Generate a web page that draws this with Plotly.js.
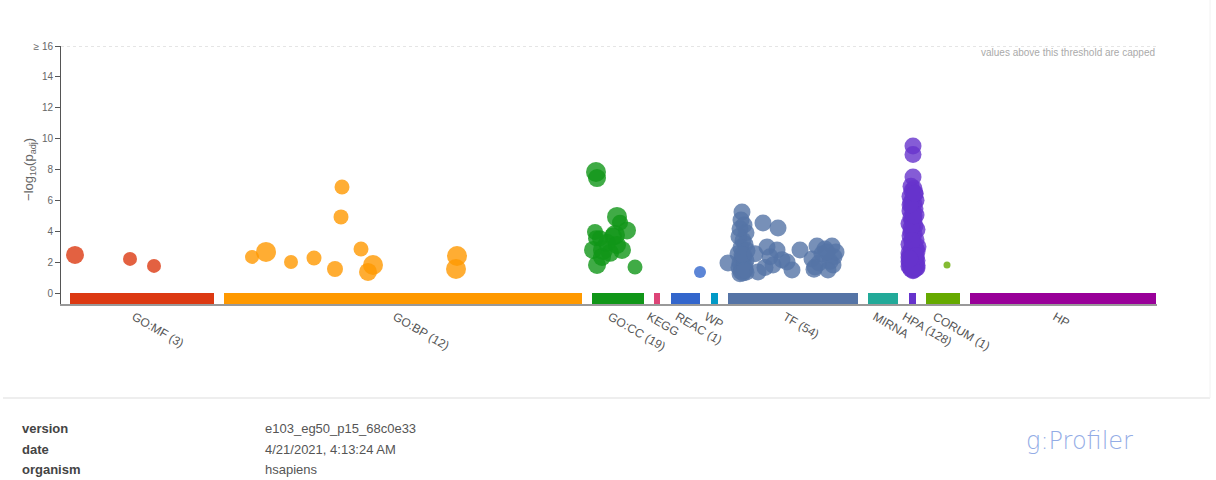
<!DOCTYPE html>
<html>
<head>
<meta charset="utf-8">
<script src="https://cdn.plot.ly/plotly-3.0.1.min.js"></script>
<style>html,body{margin:0;padding:0;background:#fff;}#chart{width:1216px;height:480px;}</style>
</head>
<body>
<div id="chart"></div>
<script>
// ---- categories (sources) ----
const catNames  = ['GO:MF (3)','GO:BP (12)','GO:CC (19)','KEGG','REAC (1)','WP','TF (54)','MIRNA','HPA (128)','CORUM (1)','HP'];
const catStart  = [70, 224, 592, 654, 671, 711, 728, 868, 909, 926, 970];
const catEnd    = [214, 582, 644, 660, 700, 718, 858, 898, 916, 960, 1156];
const catColors = ['#dc3912','#ff9900','#109618','#dd4477','#3366cc','#0099c6','#5574a6','#22aa99','#6633cc','#66aa00','#990099'];

// ---- term points per source (x = position along the source axis, y = -log10(padj)) ----
const mfX = [75, 130, 154];
const mfY = [2.52, 2.26, 1.81];
const mfS = [18, 14, 14];

const bpX = [252, 266, 291, 314, 335, 342, 341, 361, 373, 368, 457, 456];
const bpY = [2.39, 2.71, 2.06, 2.32, 1.61, 6.9, 4.97, 2.9, 1.87, 1.42, 2.45, 1.61];
const bpS = [14, 20, 14, 15, 16, 15, 15, 15, 20, 18, 20, 20];

const ccX = [596, 597, 617, 615, 627, 595, 596, 597, 593, 603, 610, 622, 635, 602, 607, 613, 600, 620, 617];
const ccY = [7.87, 7.48, 4.97, 3.8, 4.1, 4.0, 3.6, 1.87, 2.84, 2.84, 2.65, 2.84, 1.74, 2.39, 3.3, 3.7, 3.6, 4.6, 3.16];
const ccS = [20, 18, 20, 20, 18, 16, 16, 18, 18, 20, 18, 18, 15, 18, 18, 18, 16, 16, 18];

const reacX = [700];
const reacY = [1.42];
const reacS = [12];

const tfX = [742, 741, 744, 740, 746, 739, 743, 745, 741, 747, 738, 744, 742, 746, 740, 743, 745, 739, 742, 744, 741, 746, 743, 740, 745, 742,
             728, 763, 778, 767, 777, 773, 787, 800, 792, 758, 770, 782, 755, 765,
             817, 832, 834, 815, 828, 822, 812, 833, 825, 819, 830, 836, 814, 827];
const tfY = [5.29, 4.77, 4.45, 4.2, 3.95, 3.7, 3.45, 3.2, 3.0, 2.8, 2.6, 2.45, 2.3, 2.15, 2.0, 1.9, 1.8, 1.7, 1.6, 1.5, 1.45, 1.4, 1.35, 1.3, 1.55, 2.55,
             2.0, 4.58, 4.26, 3.03, 2.84, 1.87, 2.06, 2.84, 1.55, 1.42, 2.4, 2.2, 2.6, 1.7,
             3.1, 3.1, 2.4, 1.74, 1.55, 2.58, 2.26, 1.87, 2.9, 2.0, 2.1, 2.7, 1.6, 2.7];
const tfS = 17;

const hpaX = [913, 913, 913, 911, 914, 912, 915, 910, 913, 916, 911, 914, 912, 915, 910, 913, 916, 911, 914, 912, 909, 915, 913, 917, 911,
              914, 910, 913, 916, 912, 909, 915, 913, 911, 917, 914, 910, 912, 916, 913, 909, 915, 911, 914, 917, 912, 910, 913, 916, 911,
              914, 913, 909, 917, 910, 915, 912, 918, 909, 916, 911, 914, 910, 915, 912, 917, 909, 913, 916, 910];
const hpaY = [9.55, 9.0, 7.55, 6.95, 6.8, 6.65, 6.45, 6.3, 6.2, 6.05, 5.9, 5.8, 5.65, 5.5, 5.35, 5.2, 5.1, 4.95, 4.8, 4.7, 4.55, 4.4, 4.3, 4.15, 4.0,
              3.9, 3.75, 3.6, 3.5, 3.35, 3.2, 3.1, 3.0, 2.85, 2.75, 2.6, 2.5, 2.4, 2.3, 2.2, 2.1, 2.05, 1.95, 1.9, 1.85, 1.8, 1.75, 1.7, 1.65, 1.6,
              1.55, 1.5, 2.35, 2.15, 1.98, 1.72, 1.62, 3.05, 2.65, 2.9, 4.25, 5.05, 5.75, 6.5, 3.45, 1.68, 1.78, 1.58, 2.45, 2.25];
const hpaS = 17;

const corumX = [947];
const corumY = [1.87];
const corumS = [7];

// y-axis ticks
const yTickVals = [0, 2, 4, 6, 8, 10, 12, 14, 16];
const yTickText = ['0', '2', '4', '6', '8', '10', '12', '14', '\u2265 16'];
const capValue = 16;

// footer
const metaKeys = ['version', 'date', 'organism'];
const metaVals = ['e103_eg50_p15_68c0e33', '4/21/2021, 4:13:24 AM', 'hsapiens'];

// ---- layout geometry ----
const W = 1216, H = 480;
const M = {l: 61, r: 59, t: 46, b: 176};
const pw = W - M.l - M.r, ph = H - M.t - M.b;
const px2paperX = px => (px - M.l) / pw;
const py2paperY = py => (H - M.b - py) / ph;

const OP = 0.8;
function pts(x, y, s, color, name) {
  return {type: 'scatter', mode: 'markers', x: x, y: y, name: name, hoverinfo: 'x+y',
    marker: {size: s, color: color, opacity: OP, line: {width: 0}}};
}

const centers = catStart.map((s, i) => (s + catEnd[i]) / 2);
const widths = catStart.map((s, i) => catEnd[i] - s);

const traces = [
  {type: 'bar', x: centers, y: catStart.map(() => 0.7), base: catStart.map(() => -0.65), width: widths,
   marker: {color: catColors, line: {width: 0}}, hoverinfo: 'skip'},
  pts(mfX, mfY, mfS, catColors[0], 'GO:MF'),
  pts(bpX, bpY, bpS, catColors[1], 'GO:BP'),
  pts(ccX, ccY, ccS, catColors[2], 'GO:CC'),
  pts(reacX, reacY, reacS, catColors[4], 'REAC'),
  pts(tfX, tfY, tfS, catColors[6], 'TF'),
  pts(hpaX, hpaY, hpaS, catColors[8], 'HPA'),
  pts(corumX, corumY, corumS, catColors[9], 'CORUM')
];

const annotations = [
  {xref: 'paper', yref: 'y', x: px2paperX(30), y: 8.0, text: '\u2212log<sub>10</sub>(p<sub>adj</sub>)', textangle: -90,
   showarrow: false, font: {family: 'Liberation Sans, Arial, sans-serif', size: 13, color: '#666'}, xanchor: 'center', yanchor: 'middle'},
  {xref: 'paper', yref: 'paper', x: 1, y: py2paperY(52), text: 'values above this threshold are capped', showarrow: false,
   xanchor: 'right', yanchor: 'middle', font: {family: 'Liberation Sans, Arial, sans-serif', size: 10, color: '#aaa'}},
  {xref: 'paper', yref: 'paper', x: px2paperX(1024), y: py2paperY(441), text: 'g:Profiler', showarrow: false,
   xanchor: 'left', yanchor: 'middle', font: {family: 'DejaVu Sans, sans-serif', size: 24, weight: 200, color: '#93ace6'}}
];
const metaY = [428, 449, 469];
metaKeys.forEach((k, i) => {
  annotations.push({xref: 'paper', yref: 'paper', x: px2paperX(20), y: py2paperY(metaY[i]), text: '<b>' + k + '</b>', showarrow: false,
    xanchor: 'left', yanchor: 'middle', font: {family: 'Liberation Sans, Arial, sans-serif', size: 13, color: '#444'}});
  annotations.push({xref: 'paper', yref: 'paper', x: px2paperX(263), y: py2paperY(metaY[i]), text: metaVals[i], showarrow: false,
    xanchor: 'left', yanchor: 'middle', font: {family: 'Liberation Sans, Arial, sans-serif', size: 13, color: '#555'}});
});

const layout = {
  width: W, height: H, margin: M, showlegend: false,
  paper_bgcolor: '#fff', plot_bgcolor: '#fff',
  bargap: 0,
  xaxis: {range: [M.l, W - M.r], showgrid: false, zeroline: false, showline: true, linecolor: '#999', linewidth: 1.5,
    tickmode: 'array', tickvals: centers, ticktext: catNames, tickangle: 30, ticks: '', ticklabelshift: -8,
    tickfont: {family: 'Liberation Sans, Arial, sans-serif', size: 12, color: '#555'}, fixedrange: true},
  yaxis: {range: [-0.65, capValue], showgrid: false, zeroline: false, showline: true, linecolor: '#555', linewidth: 1,
    tickmode: 'array', tickvals: yTickVals, ticktext: yTickText, ticks: 'outside', ticklen: 5, tickcolor: '#555',
    tickfont: {family: 'Liberation Sans, Arial, sans-serif', size: 10, color: '#666'}, fixedrange: true},
  shapes: [
    {type: 'line', xref: 'paper', yref: 'y', x0: 0, x1: 1, y0: capValue, y1: capValue, line: {color: '#ccc', width: 1, dash: 'dot'}},
    {type: 'line', xref: 'paper', yref: 'paper', x0: px2paperX(3), x1: px2paperX(1210), y0: py2paperY(398), y1: py2paperY(398), line: {color: '#eee', width: 2}},
    {type: 'line', xref: 'paper', yref: 'paper', x0: px2paperX(1210), x1: px2paperX(1210), y0: py2paperY(0), y1: py2paperY(398), line: {color: '#f2f2f2', width: 1}}
  ],
  annotations: annotations
};

Plotly.newPlot('chart', traces, layout, {displayModeBar: false, staticPlot: true});
</script>
</body>
</html>
